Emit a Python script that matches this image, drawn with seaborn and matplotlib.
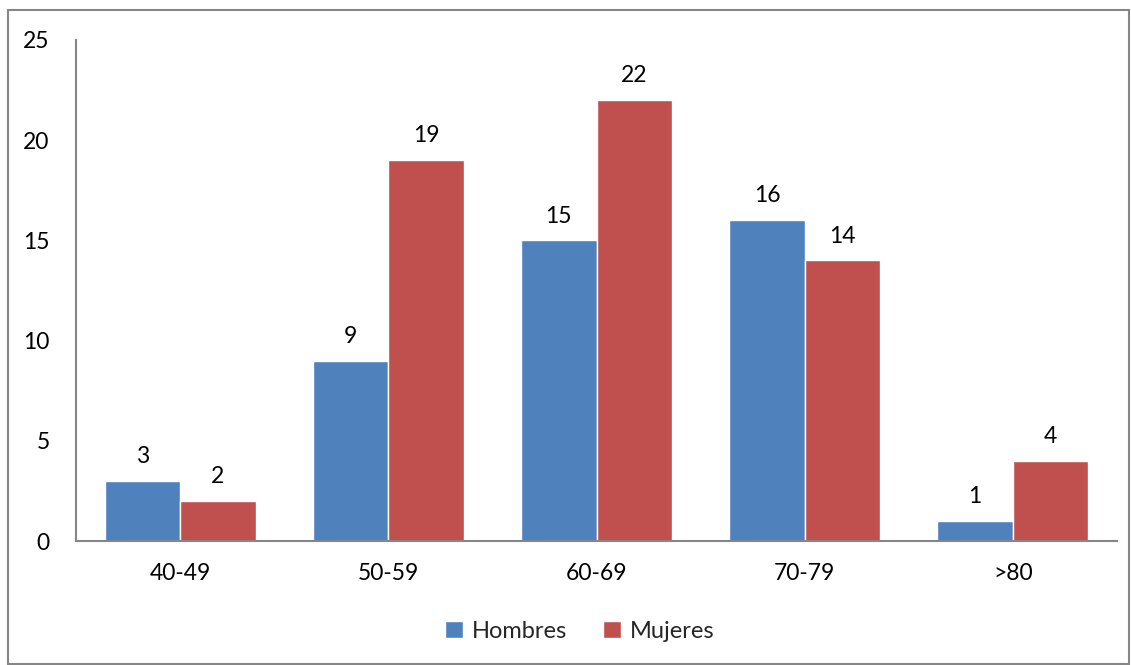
import pandas as pd
import matplotlib.pyplot as plt
import seaborn as sns
from matplotlib.patches import Rectangle

# data
grupos = ['40-49', '50-59', '60-69', '70-79', '>80']
hombres = [3, 9, 15, 16, 1]
mujeres = [2, 19, 22, 14, 4]

df = pd.DataFrame({
    'grupo': grupos * 2,
    'valor': hombres + mujeres,
    'sexo': ['Hombres'] * len(grupos) + ['Mujeres'] * len(grupos),
})

sns.set_style('white')
plt.rcParams['font.family'] = ['Lato', 'DejaVu Sans']

fig = plt.figure(figsize=(11.31, 6.65), dpi=100)
ax = fig.add_axes([76 / 1131, 1 - 541 / 665, (1117 - 76) / 1131, (541 - 40) / 665])

sns.barplot(data=df, x='grupo', y='valor', hue='sexo', order=grupos,
            palette=['#4F81BD', '#C0504D'], width=0.725, saturation=1,
            ax=ax, legend=True)

for cont in ax.containers:
    ax.bar_label(cont, padding=10, fontsize=16.5, color='black')

ax.set_ylim(0, 25)
ax.set_yticks(range(0, 26, 5))
ax.set_xlim(-0.5, 4.5)
ax.set_xlabel('')
ax.set_ylabel('')
ax.tick_params(axis='both', length=0, labelsize=16.5, colors='black')
ax.tick_params(axis='y', pad=19)
ax.tick_params(axis='x', pad=16)
for s in ['top', 'right']:
    ax.spines[s].set_visible(False)
for s in ['left', 'bottom']:
    ax.spines[s].set_color('#868686')
    ax.spines[s].set_linewidth(1.5)

handles, labels = ax.get_legend_handles_labels()
ax.legend(handles, labels, loc='center', bbox_to_anchor=(0.484, -0.18),
          ncol=2, frameon=False, fontsize=17, handlelength=0.75,
          handleheight=0.75, handletextpad=0.4, columnspacing=1.5)

# outer chart frame
fig.patches.append(Rectangle((8 / 1131, 0.002), 1 - 8 / 1131 - 0.002, 1 - 10 / 665 - 0.002,
                             transform=fig.transFigure, fill=False,
                             edgecolor='#868686', linewidth=1.5))

fig.savefig('out.png', dpi=100)
